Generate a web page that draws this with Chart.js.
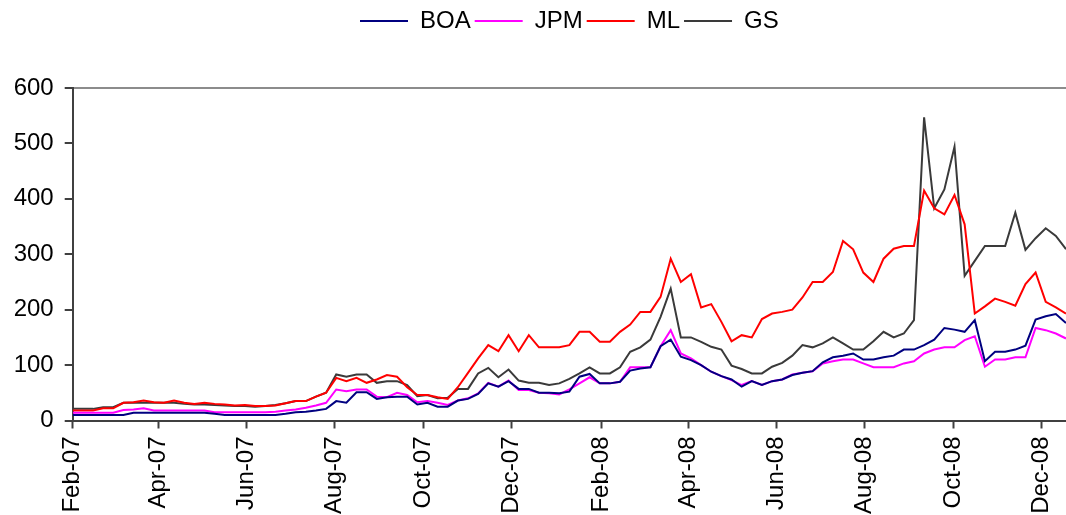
<!DOCTYPE html>
<html>
<head>
<meta charset="utf-8">
<title>CDS spreads: BOA, JPM, ML, GS</title>
<script src="https://cdn.jsdelivr.net/npm/chart.js@4/dist/chart.umd.min.js"></script>
<style>
  html, body { margin: 0; padding: 0; background: #ffffff; }
  #wrap { width: 1066px; height: 515px; }
</style>
</head>
<body>
<div id="wrap"><canvas id="chart" width="1066" height="515"></canvas></div>
<script>
// Weekly observations, first week starting 1 Feb 2007
const firstWeek = '2007-02-01';
const weekCount = 99;

// Axis labels every two months
const tickDates = ['2007-02-01', '2007-04-01', '2007-06-01', '2007-08-01', '2007-10-01', '2007-12-01',
                   '2008-02-01', '2008-04-01', '2008-06-01', '2008-08-01', '2008-10-01', '2008-12-01'];
const tickLabels = ['Feb-07', 'Apr-07', 'Jun-07', 'Aug-07', 'Oct-07', 'Dec-07',
                    'Feb-08', 'Apr-08', 'Jun-08', 'Aug-08', 'Oct-08', 'Dec-08'];

const seriesNames = ['BOA', 'JPM', 'ML', 'GS'];

const boa = [10, 10, 10, 10, 10, 10, 14, 14, 14, 14, 14, 14, 14, 14, 12, 10, 10, 10, 10, 10,
             10, 12, 15, 16, 18, 21, 35, 32, 51, 51, 39, 42, 43, 43, 29, 32, 25, 25, 36, 39,
             48, 67, 61, 71, 57, 57, 50, 50, 49, 52, 79, 84, 67, 67, 70, 90, 94, 96, 134, 146,
             115, 109, 100, 88, 80, 74, 61, 71, 64, 71, 74, 82, 86, 89, 105, 114, 117, 121, 110, 110,
             114, 117, 128, 128, 136, 146, 167, 164, 160, 181, 107, 124, 124, 128, 135, 182, 188, 192, 176];

const jpm = [14, 14, 14, 14, 14, 19, 20, 22, 18, 18, 18, 18, 18, 18, 15, 15, 15, 15, 15, 15,
             16, 18, 20, 23, 27, 32, 56, 53, 56, 56, 43, 42, 50, 46, 33, 35, 32, 28, 36, 40,
             49, 68, 61, 72, 55, 55, 50, 49, 47, 56, 67, 78, 67, 67, 70, 96, 96, 96, 134, 163,
             121, 112, 100, 88, 80, 73, 64, 71, 64, 71, 74, 83, 86, 89, 103, 107, 110, 110, 103, 96,
             96, 96, 103, 107, 121, 128, 132, 132, 145, 152, 97, 110, 110, 114, 114, 167, 163, 157, 148];

const ml  = [18, 18, 18, 22, 22, 32, 33, 36, 33, 32, 36, 32, 30, 32, 30, 29, 27, 28, 26, 26,
             27, 31, 35, 35, 43, 50, 77, 71, 77, 68, 74, 82, 79, 60, 46, 46, 42, 39, 60, 86,
             112, 136, 125, 154, 125, 154, 132, 132, 132, 136, 160, 160, 142, 142, 160, 173, 196, 196, 223, 292,
             250, 264, 204, 210, 178, 143, 154, 150, 183, 193, 196, 200, 222, 250, 250, 268, 324, 309, 267, 250,
             292, 310, 315, 315, 415, 383, 372, 407, 354, 193, 206, 220, 214, 207, 246, 267, 214, 204, 193];

const gs  = [21, 21, 21, 24, 24, 32, 32, 32, 32, 32, 32, 30, 29, 29, 28, 27, 26, 26, 25, 26,
             28, 31, 35, 35, 43, 50, 83, 79, 83, 83, 68, 71, 71, 64, 44, 46, 40, 41, 57, 57,
             85, 95, 78, 92, 72, 68, 68, 64, 67, 75, 85, 96, 85, 85, 96, 124, 132, 146, 187, 238,
             150, 150, 142, 133, 128, 99, 93, 85, 85, 97, 104, 117, 136, 132, 139, 150, 139, 128, 128, 143,
             160, 150, 157, 181, 547, 383, 417, 494, 261, 288, 315, 315, 315, 375, 308, 329, 347, 333, 309];

const lineColors = ['#000080', '#ff00ff', '#ff0000', '#3a3a3a'];

const yMax = 600;
const yStep = 100;

// ---- date helpers: everything on the x axis is measured in days from the first week ----
const DAY = 86400000;
function utc(s) { const p = s.split('-').map(Number); return Date.UTC(p[0], p[1] - 1, p[2]); }
const origin = utc(firstWeek);
const weekDays = [];
for (let i = 0; i < weekCount; i++) weekDays.push(i * 7);
const tickDays = tickDates.map(d => Math.round((utc(d) - origin) / DAY));

function toPoints(values) { return values.map((v, i) => ({ x: weekDays[i], y: v })); }

const allSeries = [boa, jpm, ml, gs];
const datasets = allSeries.map((vals, k) => ({
  label: seriesNames[k],
  data: toPoints(vals),
  borderColor: lineColors[k],
  backgroundColor: lineColors[k],
  borderWidth: 2,
  pointRadius: 0,
  tension: 0,
  fill: false
}));

const FONT = "'Liberation Sans', Arial, Helvetica, sans-serif";

// Keep the legend band a fixed height so the plot starts at the same place every time
const legendBand = {
  id: 'legendBand',
  beforeInit(chart) {
    const lg = chart.legend;
    if (!lg) return;
    const fit = lg.fit;
    lg.fit = function () { fit.call(this); this.height = 83; };
  }
};

new Chart(document.getElementById('chart'), {
  type: 'line',
  data: { datasets },
  plugins: [legendBand],
  options: {
    responsive: false,
    animation: false,
    events: [],
    layout: { padding: { top: 5, left: 0, right: 0, bottom: 0 } },
    plugins: {
      tooltip: { enabled: false },
      legend: {
        position: 'top',
        fullSize: false,
        labels: {
          usePointStyle: true,
          pointStyle: 'line',
          pointStyleWidth: 48,
          boxHeight: 24,
          padding: 4,
          color: '#000000',
          font: { family: FONT, size: 24 }
        }
      }
    },
    scales: {
      x: {
        type: 'linear',
        min: 0,
        max: weekDays[weekDays.length - 1],
        afterBuildTicks(scale) { scale.ticks = tickDays.map(v => ({ value: v })); },
        afterFit(scale) {
          scale.height = 94.5;
          scale.paddingLeft = 0;
          scale.paddingRight = 0;
        },
        border: { display: true, color: '#404040', width: 2 },
        grid: { drawOnChartArea: false, tickLength: 8, tickColor: '#404040', tickWidth: 2 },
        ticks: {
          autoSkip: false,
          maxRotation: 90,
          minRotation: 90,
          padding: 8,
          color: '#000000',
          font: { family: FONT, size: 24 },
          callback(value, index) { return tickLabels[index]; }
        }
      },
      y: {
        min: 0,
        max: yMax,
        afterFit(scale) { scale.width = 72.7; },
        border: { display: true, color: '#404040', width: 2 },
        grid: {
          drawOnChartArea: true,
          color: ctx => (ctx.tick && ctx.tick.value === yMax) ? '#8c8c8c' : 'rgba(0,0,0,0)',
          lineWidth: 2,
          tickLength: 8,
          tickColor: '#404040',
          tickWidth: 2
        },
        ticks: {
          stepSize: yStep,
          padding: 11,
          color: '#000000',
          font: { family: FONT, size: 24 }
        }
      }
    }
  }
});
</script>
</body>
</html>
